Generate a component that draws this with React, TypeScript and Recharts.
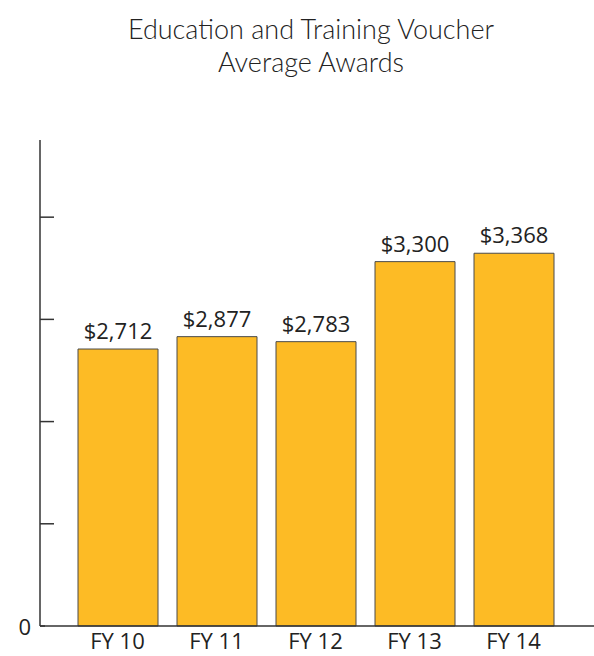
import { Bar, BarChart, LabelList, XAxis, YAxis } from "recharts";

// Fiscal years on the x-axis.
const years = ["FY 10", "FY 11", "FY 12", "FY 13", "FY 14"];
// Bar heights as drawn in the source picture (dollars).
const barHeights = [2710, 2831, 2782, 3565, 3647];
// Printed value labels above each bar.
const awardLabels = ["$2,712", "$2,877", "$2,783", "$3,300", "$3,368"];
const yTicks = [0, 1000, 2000, 3000, 4000];

const data = years.map((year, i) => ({
  year,
  height: barHeights[i],
  label: awardLabels[i],
}));

function YTick(props: any) {
  const { x, y, payload } = props;
  if (payload.value === 0) {
    return (
      <g>
        <line x1={x} y1={y} x2={x + 5} y2={y} stroke="#333" strokeWidth={1.5} />
        <text
          x={x - 9}
          y={y + 9}
          textAnchor="end"
          fontSize={22}
          fontFamily="Open Sans"
          fill="#222"
        >
          0
        </text>
      </g>
    );
  }
  return <line x1={x} y1={y} x2={x + 14} y2={y} stroke="#333" strokeWidth={1.5} />;
}

export default function App() {
  return (
    <div style={{ position: "absolute", left: 0, top: 0, width: 594, height: 656 }}>
      <div
        style={{
          position: "absolute",
          left: 0,
          top: 12,
          width: 622,
          textAlign: "center",
          fontFamily: "Lato",
          fontWeight: 300,
          fontSize: 27,
          lineHeight: "33px",
          color: "#222",
        }}
      >
        Education and Training Voucher
        <br />
        Average Awards
      </div>
      <BarChart
        width={594}
        height={656}
        data={data}
        margin={{ top: 140, right: 0, bottom: 0, left: 0 }}
        barSize={80}
      >
        <XAxis
          dataKey="year"
          height={30}
          padding={{ left: 28, right: 31 }}
          tickLine={false}
          tickSize={0}
          tickMargin={7}
          axisLine={{ stroke: "#333", strokeWidth: 1.5 }}
          tick={{ fontSize: 22, fontFamily: "Open Sans", fill: "#222" }}
          interval={0}
        />
        <YAxis
          width={40}
          domain={[0, 4755]}
          ticks={yTicks}
          tickLine={false}
          tickSize={0}
          tickMargin={0}
          axisLine={{ stroke: "#333", strokeWidth: 1.5 }}
          tick={<YTick />}
        />
        <Bar
          dataKey="height"
          fill="#fdbb25"
          stroke="#4a4a4a"
          strokeWidth={1}
          isAnimationActive={false}
        >
          <LabelList
            dataKey="label"
            position="top"
            offset={10}
            fontSize={22}
            fontFamily="Open Sans"
            fill="#222"
          />
        </Bar>
      </BarChart>
    </div>
  );
}
